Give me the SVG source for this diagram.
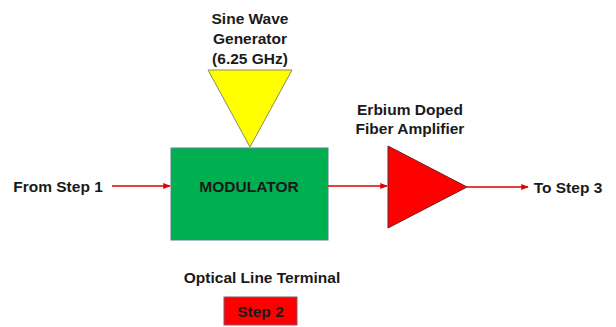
<svg xmlns="http://www.w3.org/2000/svg" width="616" height="327" viewBox="0 0 616 327">
<style>
text{font-family:"Liberation Sans",Arial,sans-serif;font-weight:bold;font-size:15.5px;fill:#1a1a1a;text-anchor:middle}
.c{stroke:#e00000;stroke-width:1.5;fill:none}
</style>
<defs>
<marker id="ah" viewBox="0 0 10 10" refX="9" refY="5" markerWidth="5" markerHeight="5" orient="auto"><path d="M0,1 L10,5 L0,9 z" fill="#e00000"/></marker>
</defs>
<rect width="616" height="327" fill="#fff"/>
<g id="from"><text x="58" y="192">From Step 1</text></g>
<g id="to"><text x="568" y="193">To Step 3</text></g>
<g id="sine">
<polygon points="208,70 292,70 250,147" fill="#ffff00" stroke="#8a8a6a" stroke-width="1"/>
<text x="250" y="24">Sine Wave</text>
<text x="250" y="44">Generator</text>
<text x="250" y="64">(6.25 GHz)</text>
</g>
<g id="modulator">
<rect x="171" y="148" width="157" height="92" fill="#00b050" stroke="#5a7f8f" stroke-width="1"/>
<text x="249" y="192">MODULATOR</text>
</g>
<g id="edfa">
<polygon points="388,146 467,187 388,228" fill="#ff0000" stroke="#6a2020" stroke-width="1"/>
<text x="410" y="115">Erbium Doped</text>
<text x="410" y="134">Fiber Amplifier</text>
</g>
<g id="olt"><text x="262" y="283">Optical Line Terminal</text></g>
<g id="step2">
<rect x="224" y="297" width="73" height="28" fill="#ff0000" stroke="#7a5a6a" stroke-width="1"/>
<text x="260.5" y="317">Step 2</text>
</g>
<g id="connectors">
<line class="c" x1="112" y1="186" x2="170" y2="186" marker-end="url(#ah)"/>
<line class="c" x1="328" y1="186" x2="387" y2="186" marker-end="url(#ah)"/>
<line class="c" x1="467" y1="187" x2="528" y2="187" marker-end="url(#ah)"/>
</g>
</svg>
